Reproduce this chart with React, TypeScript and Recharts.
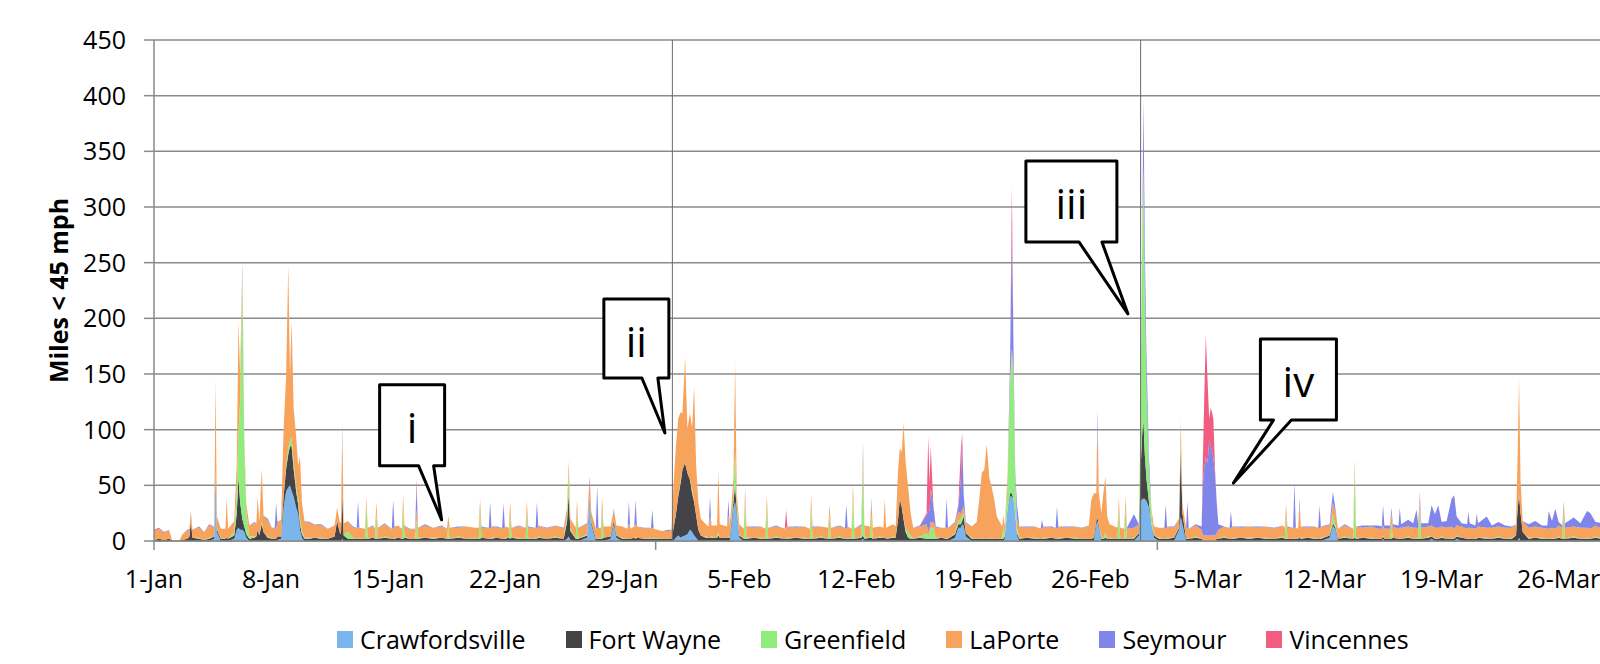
import { AreaChart, Area, XAxis, YAxis, CartesianGrid, ReferenceLine, ReferenceDot } from 'recharts';

// time in days since 1-Jan, one row per sample (one line per stretch of the record)
const days = [
  0, 0.3, 0.6, 0.9, 1.1, 1.5, 1.7, 2.0, 2.12, 2.2, 2.3, 2.7,
  3.0, 3.3, 3.6, 3.68, 3.76, 4.0, 4.27, 4.35, 4.43, 4.8, 4.95, 5.05, 5.15, 5.28, 5.4, 5.52, 5.7,
  6.0, 6.12, 6.2, 6.3, 6.44, 6.55, 6.8, 7.05, 7.22, 7.3, 7.38, 7.6, 7.75, 7.9, 8.03, 8.13, 8.23, 8.35, 8.5, 8.62, 8.73, 8.85, 9.0,
  9.3, 9.6, 10.0, 10.4, 10.8, 10.95, 11.1, 11.18, 11.26, 11.34, 11.6, 11.9, 12.12, 12.2, 12.28, 12.62, 12.7, 12.78, 13.1, 13.22, 13.3, 13.38, 13.8, 14.22, 14.3, 14.38, 14.6, 14.82, 14.9, 14.98,
  15.3, 15.62, 15.7, 15.78, 16.2, 16.7, 17.2, 17.52, 17.6, 17.68, 18.2, 18.7, 19.2, 19.42, 19.5, 19.58, 20.02, 20.1, 20.18, 20.5, 20.82, 20.9, 20.98, 21.22, 21.3, 21.38, 21.8,
  22.22, 22.3, 22.38, 22.82, 22.9, 22.98, 23.5, 24.0, 24.5, 24.7, 24.8, 24.9, 25.22, 25.3, 25.38, 25.9, 26.05, 26.15,
  26.42, 26.5, 26.58, 26.72, 26.8, 26.88, 27.3, 27.5, 27.65, 28.0, 28.32, 28.4, 28.48, 28.72, 28.8, 28.88, 29.3, 29.72, 29.8, 29.88, 30.4, 30.8,
  30.95, 31.05, 31.2, 31.35, 31.5, 31.6, 31.76, 31.9, 32.05, 32.18, 32.3, 32.42, 32.55, 32.7,
  33.0, 33.17, 33.25, 33.33, 33.67, 33.75, 33.83, 34.27, 34.35, 34.43, 34.65, 34.75, 34.85, 35.0,
  35.27, 35.35, 35.43, 35.9, 36.3, 36.57, 36.65, 36.73, 37.2, 37.72, 37.8, 37.88, 38.4, 38.9, 39.22, 39.3, 39.38, 39.9,
  40.32, 40.4, 40.48, 41.0, 41.32, 41.4, 41.48, 41.72, 41.8, 41.88, 42.3, 42.4, 42.48, 42.82, 42.9, 42.98, 43.4, 43.62, 43.7, 43.78,
  44.2, 44.35, 44.5, 44.6, 44.72, 44.82, 44.95, 45.1, 45.25, 45.4, 45.8,
  46.2, 46.3, 46.38, 46.45, 46.6, 46.75, 47.1, 47.32, 47.4, 47.48, 47.9, 48.1, 48.25, 48.33, 48.42, 48.55, 48.9,
  49.2, 49.35, 49.5, 49.65, 49.8, 49.95, 50.1, 50.25, 50.4, 50.72, 50.8, 50.88,
  51.05, 51.2, 51.3, 51.4, 51.5, 51.6, 51.75,
  52.2, 52.7, 53.02, 53.1, 53.18, 53.7, 53.92, 54.0, 54.08, 54.6, 55.1, 55.5, 55.9,
  56.05, 56.2, 56.35, 56.42, 56.5, 56.65, 56.8, 56.9, 57.0, 57.15, 57.62, 57.7, 57.78, 58.02, 58.1, 58.18, 58.6,
  58.9, 59.0, 59.1, 59.17, 59.25, 59.35, 59.5, 59.65, 59.8,
  60.1, 60.42, 60.5, 60.58, 61.0, 61.3, 61.4, 61.5, 61.72, 61.8, 61.88, 62.3,
  62.65, 62.72, 62.8, 62.9, 63.0, 63.1, 63.2, 63.35, 63.45, 63.55, 63.65,
  64.0, 64.32, 64.4, 64.48, 65.0, 65.5, 66.0, 66.5, 67.0, 67.5, 67.62, 67.7, 67.78,
  68.12, 68.2, 68.28, 68.42, 68.5, 68.58, 69.0, 69.4, 69.62, 69.7, 69.78, 70.3, 70.5, 70.65, 70.8, 71.2, 71.72, 71.8, 71.88,
  72.3, 72.8, 73.2, 73.42, 73.5, 73.58, 73.92, 74.0, 74.08, 74.42, 74.5, 74.58, 75.0, 75.3, 75.5, 75.6, 75.7, 75.78,
  76.2, 76.4, 76.6, 76.8, 77.0, 77.3, 77.6, 77.75, 77.9, 78.2, 78.52, 78.6, 78.68, 79.02, 79.1, 79.18, 79.7, 80.0, 80.4, 80.8, 81.2,
  81.45, 81.55, 81.63, 81.72, 81.85, 82.2, 82.6, 83.0, 83.32, 83.4, 83.6, 83.8, 84.0,
  84.22, 84.3, 84.38, 84.9, 85.3, 85.7, 85.9, 86.2, 86.6, 87.0, 87.5, 88.0, 88.5, 89.0,
];

const crawfordsville = [
  0, 0, 0, 0, 0, 0, 0, 0, 0, 0, 0, 0,
  0, 0, 2, 60, 8, 0, 0, 0, 0, 2, 10, 12, 10, 10, 8, 3, 0,
  0, 0, 0, 0, 0, 0, 0, 0, 0, 0, 1, 2, 30, 45, 48, 50, 45, 40, 30, 25, 10, 3, 0,
  0, 0, 0, 0, 0, 0, 0, 0, 2, 0, 0, 0, 0, 0, 0, 0, 0, 0, 0, 0, 0, 0, 0, 0, 0, 0, 0, 0, 0, 0,
  0, 0, 0, 0, 0, 0, 0, 0, 0, 0, 0, 0, 0, 0, 0, 0, 0, 0, 0, 0, 0, 0, 0, 0, 0, 0, 0,
  0, 0, 0, 0, 0, 0, 0, 0, 0, 2, 4, 1, 0, 0, 0, 3, 38, 15,
  0, 0, 0, 0, 0, 0, 2, 15, 3, 0, 0, 0, 0, 0, 0, 0, 0, 0, 0, 0, 0, 0,
  0, 0, 3, 5, 3, 4, 5, 6, 10, 8, 5, 3, 0, 0,
  0, 0, 0, 0, 0, 0, 0, 0, 0, 0, 30, 35, 25, 3,
  0, 0, 0, 0, 0, 0, 0, 0, 0, 0, 0, 0, 0, 0, 0, 0, 0, 0,
  0, 0, 0, 0, 0, 0, 0, 0, 0, 0, 1, 2, 0, 0, 0, 0, 0, 0, 0, 0,
  0, 0, 0, 0, 0, 0, 0, 0, 0, 0, 0,
  0, 0, 0, 0, 0, 0, 0, 0, 0, 0, 3, 12, 12, 15, 14, 4, 0,
  0, 0, 0, 0, 0, 0, 0, 0, 0, 0, 0, 2,
  30, 40, 40, 38, 25, 5, 0,
  0, 0, 0, 0, 0, 0, 0, 0, 0, 0, 0, 0, 0,
  0, 0, 15, 18, 12, 0, 0, 0, 0, 0, 0, 0, 0, 0, 0, 0, 0,
  5, 35, 38, 38, 38, 36, 30, 15, 3,
  0, 0, 0, 0, 0, 10, 22, 15, 0, 0, 0, 0,
  0, 0, 0, 0, 0, 0, 0, 0, 0, 0, 0,
  0, 0, 0, 0, 0, 0, 0, 0, 0, 0, 0, 0, 0,
  0, 0, 0, 0, 0, 0, 0, 0, 0, 0, 0, 3, 14, 10, 0, 0, 0, 0, 0,
  0, 0, 0, 0, 2, 0, 0, 0, 0, 0, 0, 0, 0, 0, 0, 0, 0, 0,
  0, 2, 0, 0, 0, 0, 0, 0, 2, 0, 0, 0, 0, 0, 0, 0, 0, 0, 0, 0, 0,
  0, 0, 3, 0, 0, 0, 0, 0, 0, 0, 0, 0, 0,
  0, 0, 0, 0, 0, 0, 0, 0, 0, 0, 0, 0, 0, 0,
];

const fortWayne = [
  1, 2, 1, 2, 0, 0, 1, 2, 4, 18, 3, 2,
  1, 2, 2, 3, 2, 2, 2, 3, 2, 3, 15, 45, 25, 10, 5, 3, 2,
  3, 4, 10, 5, 15, 8, 3, 2, 2, 2, 3, 2, 10, 20, 30, 35, 40, 25, 15, 8, 5, 3, 2,
  2, 3, 2, 2, 4, 18, 8, 6, 40, 5, 2, 2, 2, 2, 2, 2, 2, 2, 3, 2, 2, 2, 3, 2, 2, 2, 3, 2, 2, 3,
  2, 2, 2, 2, 3, 2, 3, 2, 2, 2, 3, 2, 2, 2, 2, 3, 2, 2, 2, 3, 2, 2, 2, 3, 2, 3, 2,
  2, 2, 2, 2, 2, 3, 2, 3, 2, 15, 38, 8, 2, 2, 2, 2, 2, 2,
  2, 2, 2, 2, 2, 3, 2, 3, 2, 2, 2, 2, 2, 3, 2, 3, 2, 2, 2, 2, 2, 2,
  2, 10, 20, 35, 50, 60, 65, 55, 45, 35, 30, 20, 10, 5,
  3, 3, 3, 3, 3, 5, 3, 3, 3, 3, 5, 15, 3, 2,
  2, 2, 2, 3, 2, 2, 2, 2, 3, 2, 2, 2, 3, 2, 2, 2, 2, 3,
  2, 2, 2, 3, 2, 2, 2, 2, 2, 2, 2, 3, 2, 3, 3, 2, 3, 3, 3, 2,
  3, 3, 20, 38, 30, 20, 8, 3, 2, 2, 3,
  2, 2, 2, 2, 2, 2, 3, 2, 2, 2, 3, 3, 3, 3, 8, 3, 2,
  2, 2, 2, 2, 2, 2, 2, 2, 2, 2, 2, 2,
  0, 3, 3, 0, 0, 2, 2,
  3, 2, 2, 2, 2, 3, 2, 2, 2, 3, 2, 2, 2,
  2, 3, 3, 3, 2, 2, 2, 3, 2, 2, 2, 2, 2, 2, 2, 2, 2,
  2, 30, 60, 70, 40, 20, 5, 0, 2,
  2, 2, 2, 2, 3, 2, 60, 10, 2, 2, 2, 3,
  2, 0, 0, 0, 0, 0, 0, 0, 0, 2, 2,
  3, 2, 2, 2, 3, 2, 3, 2, 2, 3, 2, 2, 2,
  2, 2, 2, 2, 3, 2, 3, 2, 2, 2, 2, 2, 2, 2, 2, 3, 2, 3, 2,
  3, 2, 2, 2, 2, 2, 2, 2, 3, 2, 2, 2, 3, 2, 2, 2, 2, 2,
  3, 2, 2, 2, 3, 2, 2, 2, 2, 3, 2, 2, 2, 2, 2, 3, 2, 2, 3, 2, 2,
  5, 30, 38, 25, 8, 2, 3, 2, 2, 2, 2, 2, 3,
  2, 2, 2, 3, 2, 2, 2, 3, 2, 3, 2, 2, 3, 2,
];

const greenfield = [
  0, 0, 0, 0, 0, 0, 0, 0, 0, 0, 0, 1,
  0, 1, 0, 2, 0, 1, 0, 0, 0, 3, 20, 40, 90, 215, 70, 20, 2,
  1, 0, 0, 0, 2, 0, 1, 0, 0, 0, 0, 0, 0, 3, 5, 5, 8, 5, 4, 5, 6, 3, 1,
  1, 0, 1, 0, 0, 0, 0, 0, 0, 1, 6, 1, 0, 0, 1, 0, 30, 1, 0, 0, 24, 0, 1, 0, 0, 1, 0, 0, 30, 1,
  0, 0, 18, 1, 0, 1, 0, 0, 12, 0, 1, 0, 1, 0, 26, 0, 0, 0, 1, 0, 0, 0, 1, 0, 24, 0, 1,
  0, 25, 0, 1, 0, 1, 0, 1, 0, 5, 20, 3, 0, 26, 0, 1, 0, 0,
  0, 0, 1, 0, 28, 0, 0, 0, 0, 1, 0, 0, 0, 0, 1, 0, 0, 1, 0, 1, 0, 0,
  0, 0, 0, 0, 3, 0, 0, 0, 0, 4, 0, 0, 0, 0,
  1, 0, 0, 1, 0, 3, 0, 0, 0, 1, 5, 30, 5, 1,
  0, 35, 1, 0, 1, 0, 30, 0, 1, 0, 0, 1, 0, 1, 0, 30, 0, 1,
  0, 22, 0, 1, 0, 0, 1, 0, 40, 0, 1, 65, 2, 0, 20, 0, 1, 0, 0, 0,
  1, 0, 0, 0, 0, 0, 3, 5, 3, 0, 1,
  5, 2, 5, 10, 10, 1, 0, 0, 1, 0, 1, 3, 5, 5, 3, 0, 1,
  0, 0, 1, 0, 0, 0, 1, 0, 0, 1, 12, 1,
  25, 100, 125, 110, 30, 5, 1,
  0, 1, 0, 0, 1, 0, 0, 0, 1, 0, 1, 0, 0,
  0, 0, 0, 0, 0, 3, 0, 5, 0, 1, 0, 28, 0, 0, 28, 0, 1,
  0, 60, 170, 220, 150, 80, 30, 8, 0,
  1, 0, 0, 1, 0, 0, 5, 0, 0, 1, 0, 1,
  0, 0, 0, 0, 0, 0, 0, 0, 0, 0, 0,
  1, 0, 0, 1, 0, 1, 0, 1, 0, 1, 0, 22, 0,
  0, 1, 0, 0, 0, 1, 0, 1, 0, 0, 1, 0, 8, 2, 0, 1, 0, 60, 1,
  0, 1, 0, 0, 1, 0, 0, 14, 0, 0, 1, 0, 1, 0, 1, 0, 30, 0,
  1, 0, 1, 0, 1, 0, 1, 0, 1, 0, 0, 1, 0, 0, 1, 0, 1, 0, 1, 0, 1,
  0, 0, 0, 0, 0, 1, 0, 1, 0, 0, 1, 0, 1,
  0, 24, 0, 1, 0, 1, 0, 1, 0, 1, 0, 1, 0, 1,
];

const laPorte = [
  7, 9, 6, 8, 0, 0, 5, 7, 7, 8, 7, 9,
  7, 10, 9, 80, 12, 8, 9, 35, 9, 10, 25, 100, 25, 8, 10, 8, 10,
  12, 12, 30, 12, 48, 15, 14, 10, 9, 9, 12, 15, 60, 80, 165, 60, 105, 50, 45, 30, 55, 25, 15,
  13, 12, 11, 9, 10, 12, 10, 10, 58, 10, 10, 9, 10, 10, 9, 9, 8, 9, 10, 9, 9, 10, 11, 9, 9, 10, 11, 9, 9, 10,
  8, 9, 8, 9, 11, 9, 10, 9, 9, 10, 8, 11, 9, 10, 10, 9, 10, 9, 10, 9, 10, 9, 10, 9, 9, 9, 10,
  10, 9, 10, 9, 9, 10, 9, 10, 9, 8, 10, 8, 10, 9, 10, 9, 12, 9,
  9, 10, 9, 10, 9, 10, 9, 10, 9, 10, 9, 14, 9, 10, 12, 10, 9, 9, 10, 8, 7, 7,
  8, 35, 60, 70, 60, 50, 95, 40, 60, 55, 104, 45, 25, 15,
  11, 10, 20, 10, 11, 56, 12, 10, 20, 10, 15, 80, 10, 9,
  9, 8, 10, 9, 10, 9, 9, 10, 9, 9, 9, 10, 9, 10, 9, 9, 10, 9,
  10, 9, 10, 9, 10, 9, 10, 9, 10, 9, 10, 12, 10, 10, 12, 10, 9, 9, 35, 10,
  11, 10, 45, 45, 50, 86, 60, 40, 20, 10, 9,
  8, 4, 5, 5, 5, 9, 9, 10, 9, 10, 9, 8, 5, 5, 6, 9, 10,
  15, 35, 58, 62, 85, 55, 45, 35, 20, 10, 9, 8,
  8, 5, 5, 5, 5, 8, 10,
  9, 10, 9, 9, 10, 9, 10, 9, 10, 9, 10, 9, 12,
  35, 40, 25, 82, 30, 20, 45, 50, 20, 12, 10, 9, 10, 9, 10, 9, 9,
  8, 5, 5, 10, 0, 0, 0, 5, 8,
  9, 10, 9, 10, 9, 8, 22, 8, 10, 9, 9, 10,
  8, 5, 5, 5, 5, 5, 5, 5, 5, 5, 8,
  9, 10, 9, 10, 9, 10, 9, 10, 9, 10, 10, 9, 10,
  10, 9, 10, 9, 30, 10, 9, 10, 10, 9, 10, 9, 10, 12, 9, 10, 9, 8, 10,
  9, 10, 9, 9, 9, 9, 9, 9, 10, 9, 9, 10, 9, 10, 9, 9, 9, 10,
  9, 10, 9, 10, 9, 10, 10, 9, 9, 10, 9, 9, 10, 9, 9, 10, 9, 10, 9, 10, 9,
  10, 50, 105, 30, 10, 9, 10, 9, 9, 9, 9, 9, 10,
  10, 9, 10, 9, 10, 9, 9, 10, 9, 10, 9, 10, 9, 10,
];

const seymour = [
  1, 0, 1, 0, 0, 0, 0, 1, 0, 1, 0, 1,
  0, 1, 0, 0, 0, 0, 0, 1, 0, 0, 0, 0, 0, 7, 0, 0, 0,
  1, 0, 0, 0, 0, 0, 2, 0, 1, 22, 1, 0, 0, 0, 0, 0, 0, 0, 0, 0, 0, 0, 0,
  1, 0, 1, 0, 0, 0, 0, 0, 6, 0, 0, 1, 0, 24, 0, 0, 0, 0, 1, 0, 0, 0, 1, 0, 26, 0, 0, 0, 0, 0,
  1, 0, 20, 0, 1, 0, 1, 0, 0, 0, 1, 0, 0, 0, 0, 1, 0, 24, 0, 1, 0, 22, 0, 0, 0, 0, 1,
  0, 0, 1, 0, 24, 0, 1, 0, 1, 0, 0, 0, 0, 0, 0, 1, 1, 0,
  0, 38, 0, 0, 0, 0, 0, 1, 0, 0, 0, 20, 0, 0, 22, 0, 1, 0, 16, 0, 0, 1,
  0, 0, 0, 0, 0, 0, 0, 0, 0, 0, 0, 0, 0, 0,
  0, 0, 17, 0, 0, 0, 0, 0, 14, 0, 0, 0, 0, 0,
  0, 2, 0, 1, 0, 0, 0, 0, 1, 0, 2, 0, 1, 0, 0, 0, 1, 0,
  0, 0, 0, 1, 0, 22, 0, 0, 0, 0, 1, 6, 0, 0, 3, 0, 0, 0, 0, 0,
  0, 0, 0, 0, 0, 0, 0, 0, 0, 0, 1,
  8, 20, 15, 30, 15, 1, 0, 0, 26, 0, 1, 5, 30, 65, 10, 1, 0,
  0, 0, 0, 0, 0, 0, 0, 0, 0, 0, 0, 0,
  0, 20, 110, 20, 5, 14, 0,
  1, 0, 0, 8, 0, 1, 0, 20, 0, 1, 0, 1, 0,
  0, 0, 0, 15, 0, 0, 0, 0, 0, 0, 0, 0, 0, 0, 0, 1, 12,
  0, 0, 10, 60, 40, 30, 10, 0, 0,
  0, 0, 22, 0, 1, 0, 0, 0, 0, 24, 0, 1,
  3, 45, 60, 70, 65, 85, 80, 70, 55, 28, 5,
  0, 0, 16, 0, 1, 0, 1, 0, 1, 0, 0, 0, 1,
  0, 40, 0, 0, 5, 0, 1, 0, 0, 20, 0, 1, 10, 3, 0, 1, 0, 2, 0,
  2, 1, 3, 2, 18, 3, 3, 5, 2, 3, 18, 3, 6, 4, 16, 4, 3, 4,
  3, 18, 12, 20, 4, 6, 25, 30, 8, 3, 4, 14, 4, 3, 12, 3, 10, 2, 4, 2, 1,
  0, 0, 0, 0, 0, 3, 5, 2, 3, 16, 6, 18, 3,
  2, 1, 4, 8, 4, 15, 14, 3, 5, 2, 4, 3, 2, 3,
];

const vincennes = [
  1, 1, 0, 0, 0, 0, 0, 0, 0, 0, 0, 0,
  0, 1, 0, 0, 0, 0, 0, 0, 0, 0, 0, 0, 0, 0, 0, 0, 0,
  0, 0, 0, 0, 0, 0, 0, 0, 0, 1, 0, 0, 0, 0, 0, 0, 0, 0, 0, 0, 0, 0, 0,
  0, 0, 0, 0, 0, 0, 0, 0, 0, 0, 0, 0, 0, 0, 0, 0, 0, 0, 0, 0, 0, 0, 0, 0, 0, 0, 0, 0, 0, 0,
  0, 0, 8, 0, 0, 0, 0, 0, 0, 0, 0, 0, 0, 0, 0, 0, 0, 0, 0, 0, 0, 1, 0, 0, 0, 0, 0,
  0, 0, 0, 0, 0, 0, 0, 0, 0, 0, 0, 0, 0, 0, 0, 0, 5, 0,
  0, 0, 0, 0, 0, 0, 0, 0, 0, 0, 0, 0, 0, 0, 0, 0, 0, 0, 0, 0, 0, 0,
  0, 0, 0, 0, 0, 0, 0, 0, 0, 0, 0, 0, 0, 0,
  0, 0, 0, 0, 0, 0, 0, 0, 0, 0, 0, 0, 0, 0,
  0, 0, 0, 0, 0, 0, 0, 0, 0, 0, 15, 0, 0, 0, 0, 0, 0, 0,
  0, 0, 0, 0, 0, 0, 0, 0, 0, 0, 0, 0, 0, 0, 0, 0, 0, 0, 0, 0,
  0, 0, 0, 0, 0, 0, 0, 0, 0, 0, 0,
  2, 66, 25, 38, 2, 0, 0, 0, 0, 0, 0, 2, 27, 4, 1, 0, 0,
  0, 0, 0, 0, 0, 0, 0, 0, 0, 0, 0, 0,
  0, 0, 35, 0, 0, 0, 0,
  0, 0, 0, 0, 0, 0, 0, 0, 0, 0, 0, 0, 0,
  0, 0, 0, 0, 0, 0, 0, 0, 0, 0, 0, 0, 0, 0, 0, 0, 0,
  0, 0, 0, 0, 0, 0, 0, 0, 0,
  0, 0, 0, 0, 0, 0, 0, 0, 0, 0, 0, 0,
  0, 20, 60, 110, 75, 20, 35, 35, 5, 0, 0,
  0, 0, 0, 0, 0, 0, 0, 0, 0, 0, 0, 0, 0,
  0, 1, 0, 0, 0, 0, 0, 0, 0, 1, 0, 0, 0, 0, 0, 0, 0, 0, 0,
  0, 0, 0, 0, 0, 0, 0, 0, 0, 0, 0, 0, 0, 0, 0, 0, 0, 0,
  0, 0, 0, 0, 0, 0, 0, 0, 0, 0, 0, 0, 0, 0, 1, 0, 0, 0, 0, 0, 0,
  0, 0, 0, 0, 0, 0, 0, 0, 0, 0, 0, 0, 0,
  0, 0, 0, 0, 0, 0, 0, 0, 0, 0, 0, 0, 0, 0,
];

const tickDays = [0, 7, 14, 21, 28, 35, 42, 49, 56, 63, 70, 77, 84];
const tickLabels = ['1-Jan', '8-Jan', '15-Jan', '22-Jan', '29-Jan', '5-Feb', '12-Feb', '19-Feb', '26-Feb', '5-Mar', '12-Mar', '19-Mar', '26-Mar'];
const yTicks = [0, 50, 100, 150, 200, 250, 300, 350, 400, 450];
const monthStarts = [31, 59];
const tickMarkDays = [0, 30, 60];

const series = [
  { key: 'crawfordsville', name: 'Crawfordsville', color: '#7cb5ec', values: crawfordsville },
  { key: 'fortWayne', name: 'Fort Wayne', color: '#434348', values: fortWayne },
  { key: 'greenfield', name: 'Greenfield', color: '#90ed7d', values: greenfield },
  { key: 'laPorte', name: 'LaPorte', color: '#f7a35c', values: laPorte },
  { key: 'seymour', name: 'Seymour', color: '#8085e9', values: seymour },
  { key: 'vincennes', name: 'Vincennes', color: '#f15c80', values: vincennes },
];

// callout tips point at (day, value); box offsets are in pixels from the tip
const callouts = [
  { label: 'i', day: 17.2, value: 19, box: { left: -62, right: 3, top: -135, bottom: -54, baseL: -23, baseR: -8 } },
  { label: 'ii', day: 30.55, value: 97, box: { left: -61, right: 4, top: -134, bottom: -55, baseL: -23, baseR: -7 } },
  { label: 'iii', day: 58.24, value: 204, box: { left: -102, right: -11, top: -153, bottom: -72, baseL: -49, baseR: -26 } },
  { label: 'iv', day: 64.55, value: 52, box: { left: 27, right: 103, top: -144, bottom: -63, baseL: 40, baseR: 58 } },
];

const rows = days.map((day, i) => {
  const row: Record<string, number> = { day };
  series.forEach((s) => { row[s.key] = s.values[i]; });
  return row;
});

const FONT = '"Open Sans", sans-serif';
const GRID = '#8a8a8a';

function Callout({ cx, cy, label, box }: any) {
  const { left, right, top, bottom, baseL, baseR } = box;
  const d = `M${cx + left},${cy + top} L${cx + right},${cy + top} L${cx + right},${cy + bottom} L${cx + baseR},${cy + bottom} L${cx},${cy} L${cx + baseL},${cy + bottom} L${cx + left},${cy + bottom} Z`;
  return (
    <g>
      <path d={d} fill="#fff" stroke="#000" strokeWidth={3} strokeLinejoin="round" />
      <text x={cx + (left + right) / 2} y={cy + top + 58} textAnchor="middle" fontSize={42} fontFamily={FONT} fill="#000">
        {label}
      </text>
    </g>
  );
}

function YLabel(props: any) {
  const vb = props.viewBox;
  const x = vb.x + 58;
  const y = vb.y + vb.height / 2;
  return (
    <text x={x} y={y} transform={`rotate(-90 ${x} ${y})`} textAnchor="middle" dominantBaseline="central"
      fontSize={25} fontWeight="bold" fontFamily={FONT} fill="#000">
      Miles &lt; 45 mph
    </text>
  );
}

export default function App() {
  return (
    <div style={{ position: 'absolute', left: 0, top: 0, width: 1600, height: 664, overflow: 'hidden', background: '#fff', fontFamily: FONT }}>
      <AreaChart width={1660} height={664} data={rows} margin={{ top: 40, right: 1, bottom: 63, left: 0 }}>
        <CartesianGrid vertical={false} stroke={GRID} strokeWidth={1.5} />
        <XAxis
          dataKey="day"
          type="number"
          domain={[0, 90]}
          ticks={tickDays}
          interval={0}
          tickFormatter={(v: number) => tickLabels[tickDays.indexOf(v)]}
          tickLine={false}
          tickSize={0}
          tickMargin={29}
          height={60}
          axisLine={{ stroke: GRID, strokeWidth: 1.5 }}
          tick={{ fontSize: 25, fill: '#000', fontFamily: FONT }}
        />
        <YAxis
          type="number"
          domain={[0, 450]}
          ticks={yTicks}
          interval={0}
          width={154}
          tickSize={10}
          tickMargin={18}
          axisLine={{ stroke: GRID, strokeWidth: 1.5 }}
          tickLine={{ stroke: GRID, strokeWidth: 1.5 }}
          tick={{ fontSize: 25, fill: '#000', fontFamily: FONT }}
          label={YLabel}
        />
        {series.map((s) => (
          <Area
            key={s.key}
            type="linear"
            dataKey={s.key}
            name={s.name}
            stackId="miles"
            stroke="none"
            fill={s.color}
            fillOpacity={1}
            dot={false}
            activeDot={false}
            isAnimationActive={false}
          />
        ))}
        {monthStarts.map((d) => (
          <ReferenceLine key={`m${d}`} x={d} stroke="#6a6a6a" strokeWidth={1} />
        ))}
        {tickMarkDays.map((d) => (
          <ReferenceLine key={`t${d}`} segment={[{ x: d, y: 0 }, { x: d, y: -8 }]} ifOverflow="visible" stroke={GRID} strokeWidth={1.5} />
        ))}
        {callouts.map((c) => (
          <ReferenceDot
            key={c.label}
            x={c.day}
            y={c.value}
            r={0}
            shape={(p: any) => <Callout cx={p.cx} cy={p.cy} label={c.label} box={c.box} />}
          />
        ))}
      </AreaChart>
      <div style={{ position: 'absolute', left: 337, top: 622, height: 34, display: 'flex', alignItems: 'center', gap: 40 }}>
        {series.map((s) => (
          <div key={s.key} style={{ display: 'flex', alignItems: 'center' }}>
            <span style={{ display: 'inline-block', width: 16, height: 17, background: s.color, marginRight: 7 }} />
            <span style={{ fontSize: 25, color: '#000', lineHeight: '34px' }}>{s.name}</span>
          </div>
        ))}
      </div>
    </div>
  );
}
